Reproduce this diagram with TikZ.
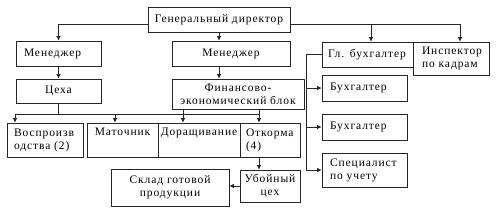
\documentclass[tikz,border=0pt]{standalone}
\usepackage{fontspec}
\setmainfont[LetterSpace=8]{Liberation Serif}
\usetikzlibrary{calc,arrows.meta}

\begin{document}
\begin{tikzpicture}[x=1pt,y=-1pt,
  unit/.style={draw=black!85, line width=0.7pt, font=\fontsize{11.5}{13}\selectfont,
    inner sep=0pt, align=center},
  lunit/.style={unit, align=left},
  conn/.style={draw=black!85, line width=0.7pt},
  arr/.style={conn, -{Latex[length=4.5pt,width=4.5pt]}}]
\useasboundingbox (0,0) rectangle (496,207);
% top level
\node[unit, minimum width=142pt, minimum height=25pt] (gen) at (219,19.5) {Генеральный директор};
% left branch
\node[lunit, minimum width=85pt, minimum height=25pt, text width=69pt] (men1) at (58.5,53.5) {Менеджер};
\node[unit, minimum width=85pt, minimum height=24pt] (ceh) at (58.5,91) {Цеха};
% middle branch
\node[unit, minimum width=118pt, minimum height=25pt] (men2) at (231,53.5) {Менеджер};
\node[unit, minimum width=132pt, minimum height=30pt] (fin) at (238,94) {Финансово-\\экономический блок};
% accounting
\node[lunit, minimum width=91pt, minimum height=25pt, text width=81pt] (glb) at (367.5,54.5) {\hspace*{1pt}Гл. бухгалтер};
\node[lunit, minimum width=76pt, minimum height=33pt, text width=58pt] (insp) at (451,58.5) {Инспектор\\по кадрам};
\node[lunit, minimum width=85pt, minimum height=26pt, text width=69pt] (buh1) at (364.5,88) {Бухгалтер};
\node[lunit, minimum width=85pt, minimum height=26pt, text width=69pt] (buh2) at (364.5,127) {Бухгалтер};
\node[lunit, minimum width=85pt, minimum height=34pt, text width=69pt] (spec) at (364.5,170) {Специалист\\по учету};
% workshops
\node[lunit, minimum width=76pt, minimum height=34pt, text width=62pt] (vos) at (45,140) {Воспроизв\\одства (2)};
\node[unit, minimum width=71pt, minimum height=34pt, text width=65pt] (mat) at (122.5,140) {Маточник\\\strut};
\node[unit, minimum width=82pt, minimum height=34pt, text width=80pt] (dor) at (199,140) {Доращивание\\\strut};
\node[lunit, minimum width=60pt, minimum height=34pt, text width=48pt] (otk) at (270,140) {Откорма\\(4)};
\node[unit, minimum width=60pt, minimum height=32pt] (uboy) at (270,186) {Убойный\\цех};
\node[unit, minimum width=118pt, minimum height=37pt] (sklad) at (170,187.5) {Склад готовой\\продукции};
% connectors
\draw[arr] ([yshift=-4.5pt]gen.west) -| (men1.north);
\draw[arr] (men1) -- (ceh);
\draw[arr] (gen.south) -- (gen.south |- men2.north);
\draw[arr] (gen.south |- men2.south) -- (gen.south |- fin.north);
\draw[arr] ([yshift=-4.5pt]gen.east) -| ([xshift=3.5pt]glb.north);
\draw[arr] ([yshift=-4.5pt]gen.east) -| ([xshift=9pt]insp.north);
\coordinate (rb) at ($(glb.west)+(-15,0)$);
\draw[arr] (glb.west) -- (rb) |- (spec.west);
\draw[arr] (rb |- buh1.west) -- (buh1.west);
\draw[arr] (rb |- buh2.west) -- (buh2.west);
\coordinate (hl) at (15,114);
\coordinate (hr) at (259,114);
\draw[conn] (ceh.south) -- (ceh.south |- hl);
\draw[conn] (hl) -- (hr);
\draw[conn] (183,0 |- fin.south) -- (183,114);
\draw[conn] (259,0 |- fin.south) -- (259,114);
\foreach \x/\n in {15/vos,115/mat,183/dor,259/otk}
  \draw[arr] (\x,114) -- (\x,0 |- \n.north);
\draw[arr] (259,0 |- otk.south) -- (259,0 |- uboy.north);
\draw[arr] (uboy.west) -- (uboy.west -| sklad.east);
\end{tikzpicture}
\end{document}
